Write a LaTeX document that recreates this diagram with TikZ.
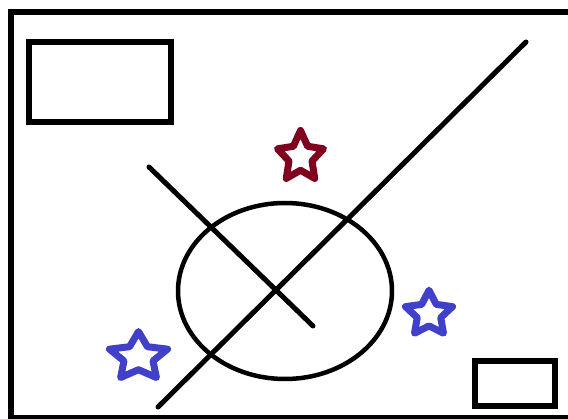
\documentclass[tikz,border=0pt]{standalone}
\definecolor{starred}{RGB}{128,0,32}
\definecolor{starblue}{RGB}{64,64,200}
\tikzset{
  thick line/.style={line width=6pt},
  mid line/.style={line width=5pt, line cap=round},
  starshape/.style={line width=7pt, line join=round},
}
% x, y, outer rx, outer ry, colour  (y axis points down)
\newcommand{\mystar}[5]{%
  \begin{scope}[shift={(#1,#2)}, xscale=#3, yscale=#4]
  \draw[starshape, #5]
    (270:1) -- (234:0.5) -- (198:1) -- (162:0.5)
    -- (126:1) -- (90:0.5) -- (54:1) -- (18:0.5)
    -- (342:1) -- (306:0.5) -- cycle;
  \end{scope}
}
\begin{document}
\begin{tikzpicture}[x=1pt,y=-1pt]
\useasboundingbox (0,0) rectangle (568,419);
\clip (0,0) rectangle (568,419);
\fill[white] (0,0) rectangle (568,419);
% outer frame
\draw[thick line] (11,12) rectangle (580,418);
% rectangles
\draw[thick line] (29,42) rectangle (171,122);
\draw[thick line] (474.5,361) rectangle (555,406);
% ellipse
\draw[line width=4.5pt] (285,291) ellipse [x radius=107, y radius=88];
% lines
\draw[mid line] (158,407) -- (526,42);
\draw[mid line] (149,167) -- (313,326);
% stars
\mystar{300.5}{157}{24.2}{26.5}{starred}
\mystar{429}{314}{24.7}{23.8}{starblue}
\mystar{138.5}{357}{30.5}{25.4}{starblue}
\end{tikzpicture}
\end{document}
